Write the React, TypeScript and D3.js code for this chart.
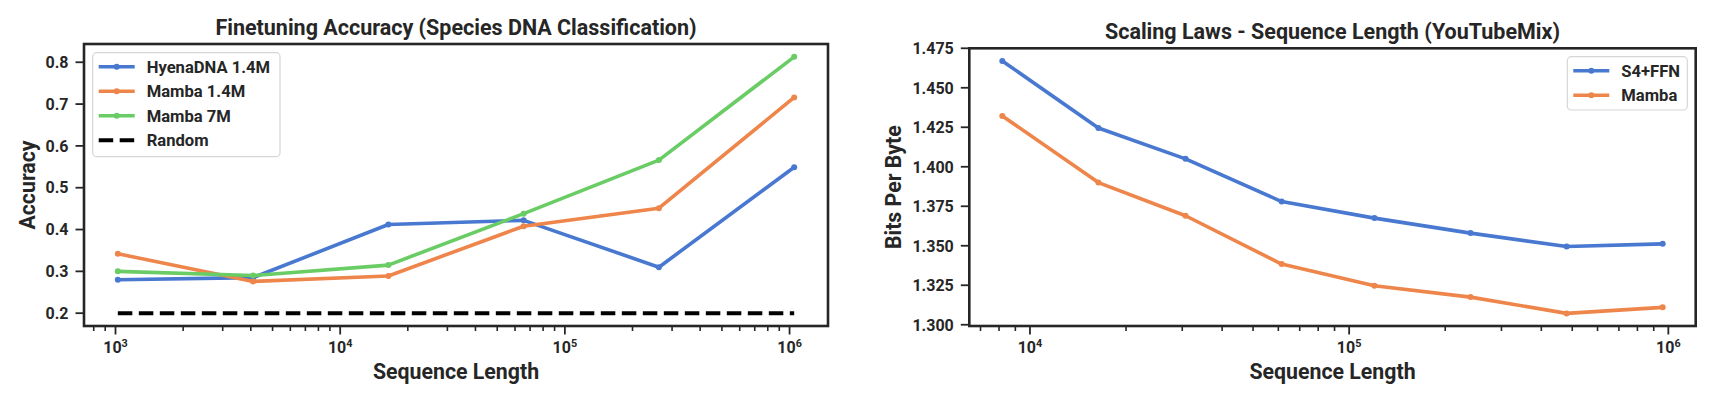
import React from "react";
import * as d3 from "d3";

// ---------- data ----------
const dnaLengths = [1024, 4096, 16384, 65536, 262144, 1048576];
const hyenaDNA14M = [0.28, 0.285, 0.412, 0.422, 0.31, 0.549];
const mamba14M = [0.342, 0.276, 0.289, 0.408, 0.451, 0.716];
const mamba7M = [0.3, 0.29, 0.315, 0.438, 0.566, 0.813];
const randomAcc = [0.2, 0.2, 0.2, 0.2, 0.2, 0.2];
const accTicks = [0.2, 0.3, 0.4, 0.5, 0.6, 0.7, 0.8];

const ytLengths = [8192, 16384, 30720, 61440, 120000, 240000, 480000, 960000];
const s4ffn = [1.467, 1.4245, 1.405, 1.378, 1.3675, 1.358, 1.3495, 1.3512];
const mambaYT = [1.4322, 1.39, 1.369, 1.3384, 1.3247, 1.3175, 1.3072, 1.311];
const bpbTicks = [1.3, 1.325, 1.35, 1.375, 1.4, 1.425, 1.45, 1.475];

const BLUE = "#4878D0";
const ORANGE = "#EE854A";
const GREEN = "#6ACC64";
const INK = "#262626";
const FONT = "Roboto, 'DejaVu Sans', sans-serif";

type Series = { name: string; values: number[]; color: string; dashed?: boolean };

type PanelProps = {
  left: number; right: number; top: number; bottom: number;
  xs: number[]; series: Series[]; yTicks: number[]; yFmt: (v: number) => string;
  title: string; yLabel: string; yLabelX: number;
  legend: { x: number; y: number; w: number; h: number };
};

function padLog(vals: number[]): [number, number] {
  const lo = Math.log10(d3.min(vals)!), hi = Math.log10(d3.max(vals)!);
  const m = (hi - lo) * 0.05;
  return [Math.pow(10, lo - m), Math.pow(10, hi + m)];
}
function padLin(vals: number[]): [number, number] {
  const lo = d3.min(vals)!, hi = d3.max(vals)!;
  const m = (hi - lo) * 0.05;
  return [lo - m, hi + m];
}

function Panel(p: PanelProps) {
  const x = d3.scaleLog().domain(padLog(p.xs)).range([p.left, p.right]);
  const allY = p.series.flatMap((s) => s.values);
  const y = d3.scaleLinear().domain(padLin(allY)).range([p.bottom, p.top]);
  const [d0, d1] = x.domain();
  const majors: number[] = [];
  const minors: number[] = [];
  for (let k = Math.floor(Math.log10(d0)); k <= Math.ceil(Math.log10(d1)); k++) {
    const b = Math.pow(10, k);
    if (b >= d0 && b <= d1) majors.push(k);
    for (let m = 2; m <= 9; m++) {
      const v = m * b;
      if (v >= d0 && v <= d1) minors.push(v);
    }
  }
  const line = d3.line<number>().x((_, i) => x(p.xs[i])).y((v) => y(v));
  const cx = (p.left + p.right) / 2;
  const cy = (p.top + p.bottom) / 2;
  const L = p.legend;
  const rowH = 24.5;
  return (
    <g fontFamily={FONT} fontWeight={700} fill={INK}>
      <text x={cx} y={p.top - 9.3} textAnchor="middle" fontSize={21.5}>{p.title}</text>
      {p.series.map((s) => (
        <g key={s.name}>
          <path d={line(s.values)!} fill="none" stroke={s.dashed ? "#000" : s.color}
            strokeWidth={s.dashed ? 4 : 3.6} strokeDasharray={s.dashed ? "14.5,6.5" : undefined}
            strokeLinejoin="round" />
          {!s.dashed && s.values.map((v, i) => (
            <circle key={i} cx={x(p.xs[i])} cy={y(v)} r={3} fill={s.color} />
          ))}
        </g>
      ))}
      <rect x={p.left} y={p.top} width={p.right - p.left} height={p.bottom - p.top}
        fill="none" stroke={INK} strokeWidth={2.6} />
      {p.yTicks.map((t) => (
        <g key={t}>
          <line x1={p.left - 8.5} x2={p.left} y1={y(t)} y2={y(t)} stroke={INK} strokeWidth={1.8} />
          <text x={p.left - 15.5} y={y(t)} dy="0.36em" textAnchor="end" fontSize={16}>{p.yFmt(t)}</text>
        </g>
      ))}
      {minors.map((v) => (
        <line key={v} x1={x(v)} x2={x(v)} y1={p.bottom} y2={p.bottom + 5} stroke={INK} strokeWidth={1.6} />
      ))}
      {majors.map((k) => (
        <g key={k}>
          <line x1={x(Math.pow(10, k))} x2={x(Math.pow(10, k))} y1={p.bottom} y2={p.bottom + 8.5}
            stroke={INK} strokeWidth={1.8} />
          <text x={x(Math.pow(10, k))} y={p.bottom + 27.3} textAnchor="middle" fontSize={16}>
            10<tspan fontSize={10.8} dy={-6.6}>{k}</tspan>
          </text>
        </g>
      ))}
      <text x={cx} y={p.bottom + 52.5} textAnchor="middle" fontSize={21.3}>Sequence Length</text>
      <text transform={`translate(${p.yLabelX},${cy}) rotate(-90)`} textAnchor="middle" fontSize={21.3}>
        {p.yLabel}
      </text>
      <rect x={L.x} y={L.y} width={L.w} height={L.h} rx={4} fill="#fff" fillOpacity={0.8}
        stroke="#d6d6d6" strokeWidth={1.2} />
      {p.series.map((s, i) => {
        const yy = L.y + 14 + i * rowH;
        return (
          <g key={s.name}>
            <line x1={L.x + 6} x2={L.x + 42} y1={yy} y2={yy} stroke={s.dashed ? "#000" : s.color}
              strokeWidth={s.dashed ? 4 : 3.6} strokeDasharray={s.dashed ? "14.5,6.5" : undefined} />
            {!s.dashed && <circle cx={L.x + 24} cy={yy} r={3} fill={s.color} />}
            <text x={L.x + 54} y={yy} dy="0.36em" fontSize={16.6}>{s.name}</text>
          </g>
        );
      })}
    </g>
  );
}

export default function App() {
  return (
    <svg width={1717} height={410} style={{ position: "absolute", left: 0, top: 0, background: "#fff" }}>
      <rect width={1717} height={410} fill="#fff" />
      <Panel left={84} right={828} top={44} bottom={326} xs={dnaLengths}
        series={[
          { name: "HyenaDNA 1.4M", values: hyenaDNA14M, color: BLUE },
          { name: "Mamba 1.4M", values: mamba14M, color: ORANGE },
          { name: "Mamba 7M", values: mamba7M, color: GREEN },
          { name: "Random", values: randomAcc, color: "#000", dashed: true },
        ]}
        yTicks={accTicks} yFmt={(v) => v.toFixed(1)}
        title="Finetuning Accuracy (Species DNA Classification)" yLabel="Accuracy" yLabelX={35}
        legend={{ x: 92.7, y: 52.7, w: 187.3, h: 104 }} />
      <Panel left={969.3} right={1695.7} top={48.3} bottom={326} xs={ytLengths}
        series={[
          { name: "S4+FFN", values: s4ffn, color: BLUE },
          { name: "Mamba", values: mambaYT, color: ORANGE },
        ]}
        yTicks={bpbTicks} yFmt={(v) => v.toFixed(3)}
        title="Scaling Laws - Sequence Length (YouTubeMix)" yLabel="Bits Per Byte" yLabelX={900.5}
        legend={{ x: 1567.3, y: 56.7, w: 120, h: 53.3 }} />
    </svg>
  );
}
